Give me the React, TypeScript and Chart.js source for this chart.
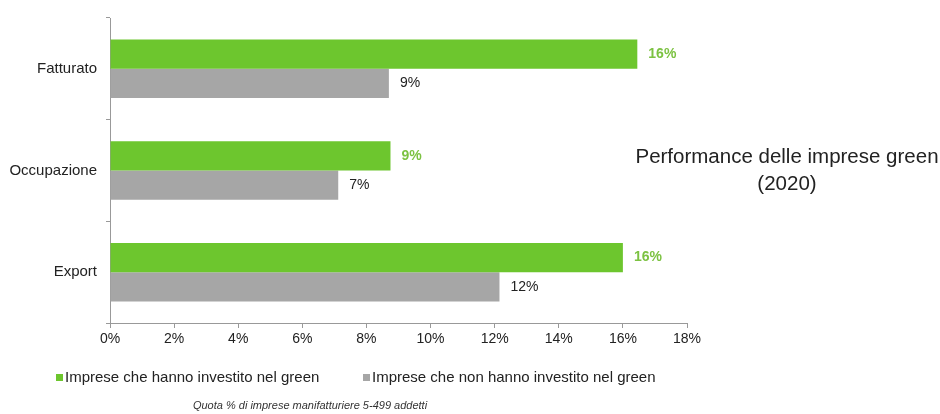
import React, { useEffect, useRef } from "react";
import { Chart, registerables } from "chart.js";

Chart.register(...registerables);

const categories = ["Fatturato", "Occupazione", "Export"];
const greenValues = [16.45, 8.75, 16.0];
const grayValues = [8.7, 7.12, 12.15];
const seriesNames = [
  "Imprese che hanno investito nel green",
  "Imprese che non hanno investito nel green",
];
const titleLines = ["Performance delle imprese green", "(2020)"];
const footerText = "Quota % di imprese manifatturiere 5-499 addetti";
const xMin = 0;
const xMax = 18;
const xStep = 2;

const GREEN = "#6dc62e";
const GREEN_TEXT = "#7cc242";
const GRAY = "#a6a6a6";
const FONT = "'Liberation Sans', Arial, sans-serif";

const overlayPlugin = {
  id: "overlay",
  afterDatasetsDraw(chart: any) {
    const ctx = chart.ctx;
    ctx.save();
    chart.data.datasets.forEach((ds: any, di: number) => {
      const meta = chart.getDatasetMeta(di);
      meta.data.forEach((bar: any, i: number) => {
        const v = ds.data[i] as number;
        ctx.font = di === 0 ? `bold 14px ${FONT}` : `14px ${FONT}`;
        ctx.fillStyle = di === 0 ? GREEN_TEXT : "#222";
        ctx.textAlign = "left";
        ctx.textBaseline = "middle";
        ctx.fillText(Math.round(v) + "%", bar.x + 11, bar.y);
      });
    });
    ctx.restore();
  },
  afterDraw(chart: any) {
    const ctx = chart.ctx;
    ctx.save();
    // title
    ctx.fillStyle = "#222";
    ctx.font = `20.5px ${FONT}`;
    ctx.textAlign = "center";
    ctx.textBaseline = "middle";
    ctx.fillText(titleLines[0], 787, 157);
    ctx.fillText(titleLines[1], 787, 184);
    // legend
    const colors = [GREEN, GRAY];
    const xs = [56, 363];
    ctx.font = `15px ${FONT}`;
    ctx.textAlign = "left";
    seriesNames.forEach((name, i) => {
      ctx.fillStyle = colors[i];
      ctx.fillRect(xs[i], 374, 7, 7);
      ctx.fillStyle = "#222";
      ctx.fillText(name, xs[i] + 9, 378);
    });
    // footer
    ctx.font = `italic 11px ${FONT}`;
    ctx.fillStyle = "#333";
    ctx.textAlign = "center";
    ctx.fillText(footerText, 310, 406);
    ctx.restore();
  },
};

export default function App() {
  const ref = useRef<HTMLCanvasElement>(null);
  useEffect(() => {
    document.body.style.margin = "0";
    const chart = new Chart(ref.current as HTMLCanvasElement, {
      type: "bar",
      data: {
        labels: categories,
        datasets: [
          {
            label: seriesNames[0],
            data: greenValues,
            backgroundColor: GREEN,
            barPercentage: 1,
            categoryPercentage: 0.575,
          },
          {
            label: seriesNames[1],
            data: grayValues,
            backgroundColor: GRAY,
            barPercentage: 1,
            categoryPercentage: 0.575,
          },
        ],
      },
      options: {
        indexAxis: "y",
        responsive: false,
        animation: false,
        layout: { padding: { left: 0, right: 253, top: 13, bottom: 61 } },
        plugins: {
          legend: { display: false },
          tooltip: { enabled: false },
          title: { display: false },
        },
        scales: {
          x: {
            min: xMin,
            max: xMax,
            afterFit: (s: any) => {
              s.height = 30;
            },
            ticks: {
              stepSize: xStep,
              callback: (v: any) => v + "%",
              font: { family: FONT, size: 14 },
              color: "#222",
              padding: 3,
              maxRotation: 0,
            },
            grid: { drawOnChartArea: false, tickLength: 5, color: "#999" },
            border: { color: "#999" },
          },
          y: {
            afterFit: (s: any) => {
              s.width = 110;
            },
            ticks: {
              font: { family: FONT, size: 15 },
              color: "#222",
              padding: 9,
            },
            grid: {
              offset: true,
              drawOnChartArea: false,
              tickLength: 4,
              color: "#999",
            },
            border: { color: "#999" },
          },
        },
      },
      plugins: [overlayPlugin],
    } as any);
    return () => chart.destroy();
  }, []);
  return <canvas ref={ref} width={940} height={414} style={{ display: "block" }} />;
}
